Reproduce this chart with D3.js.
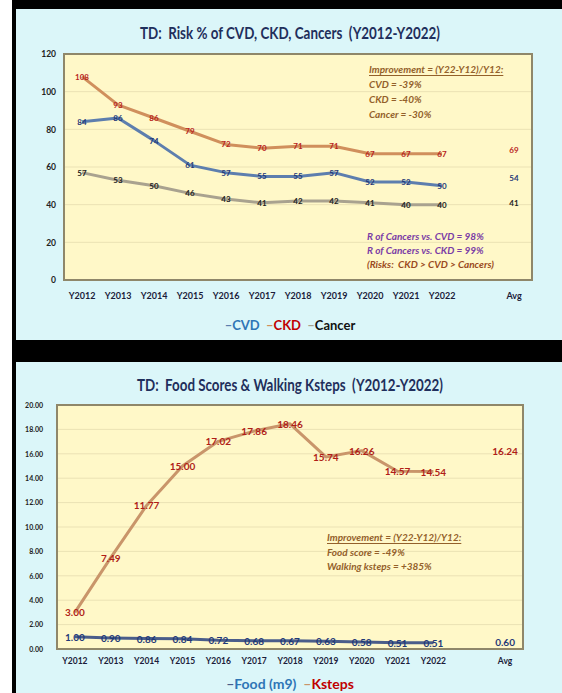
<!DOCTYPE html>
<html>
<head>
<meta charset="utf-8">
<script src="https://cdn.jsdelivr.net/npm/d3@7"></script>
<style>
  body { margin: 0; background: #000; }
  svg { display: block; font-family: Lato, 'Liberation Sans', sans-serif; }
  text { white-space: pre; }
</style>
</head>
<body>
<svg id="chart" width="562" height="693"></svg>
<script>
'use strict'

const years = ['Y2012', 'Y2013', 'Y2014', 'Y2015', 'Y2016', 'Y2017', 'Y2018', 'Y2019', 'Y2020', 'Y2021', 'Y2022']
const slots = years.concat([' ', 'Avg'])

// top chart: risk %
const cvd = [84, 86, 74, 61, 57, 55, 55, 57, 52, 52, 50]
const ckd = [108, 93, 86, 79, 72, 70, 71, 71, 67, 67, 67]
const cancer = [57, 53, 50, 46, 43, 41, 42, 42, 41, 40, 40]
const riskAvg = [54, 69, 41] // cvd, ckd, cancer
const riskTicks = [0, 20, 40, 60, 80, 100, 120]
const riskNotes = ['Improvement = (Y22-Y12)/Y12:', 'CVD = -39%', 'CKD = -40%', 'Cancer = -30%']
const riskR = ['R of Cancers vs. CVD = 98%', 'R of Cancers vs. CKD = 99%', '(Risks:  CKD > CVD > Cancers)']

// bottom chart: food score and walking ksteps
const food = [1.00, 0.90, 0.86, 0.84, 0.72, 0.68, 0.67, 0.63, 0.58, 0.51, 0.51]
const ksteps = [3.00, 7.49, 11.77, 15.00, 17.02, 17.86, 18.46, 15.74, 16.26, 14.57, 14.54]
const walkAvg = [0.60, 16.24] // food, ksteps
const walkTicks = [0, 2, 4, 6, 8, 10, 12, 14, 16, 18, 20]
const walkNotes = ['Improvement = (Y22-Y12)/Y12:', 'Food score = -49%', 'Walking ksteps = +385%']

const svg = d3.select('#chart')

// frame: white strip, black borders, two cyan panels
svg.append('rect').attr('width', 562).attr('height', 693).attr('fill', '#000')
svg.append('rect').attr('width', 12).attr('height', 693).attr('fill', '#fff')
svg.append('rect').attr('x', 16).attr('y', 9).attr('width', 546).attr('height', 331).attr('fill', '#dbf6f9')
svg.append('rect').attr('x', 16).attr('y', 362).attr('width', 546).attr('height', 331).attr('fill', '#dbf6f9')

function drawPanel (cfg) {
  const g = svg.append('g')
  const x = d3.scaleBand().domain(slots).range([cfg.left, cfg.right])
  const cx = d => x(d) + x.bandwidth() / 2
  const y = d3.scaleLinear().domain([0, cfg.ticks[cfg.ticks.length - 1]]).range([cfg.bottom, cfg.top])

  // title, squeezed to the width of the narrow original font
  g.append('text')
    .attr('x', 290).attr('y', cfg.titleY)
    .attr('text-anchor', 'middle').attr('dominant-baseline', 'central')
    .attr('font-size', 17).attr('font-weight', 'bold').attr('fill', '#1f2f5c')
    .attr('textLength', cfg.titleW).attr('lengthAdjust', 'spacingAndGlyphs')
    .text(cfg.title)

  g.append('rect')
    .attr('x', cfg.left).attr('y', cfg.top)
    .attr('width', cfg.right - cfg.left).attr('height', cfg.bottom - cfg.top)
    .attr('fill', '#fff8c8')

  g.selectAll(null)
    .data(cfg.ticks.slice(1, -1))
    .join('line')
    .attr('x1', cfg.left).attr('x2', cfg.right)
    .attr('y1', d => y(d)).attr('y2', d => y(d))
    .attr('stroke', '#ebe2b4').attr('stroke-width', 1)

  g.append('rect')
    .attr('x', cfg.left).attr('y', cfg.top)
    .attr('width', cfg.right - cfg.left).attr('height', cfg.bottom - cfg.top)
    .attr('fill', 'none').attr('stroke', '#8f876a').attr('stroke-width', 2)

  g.append('g')
    .attr('transform', `translate(${cfg.left - cfg.yGap},0)`)
    .call(d3.axisLeft(y).tickValues(cfg.ticks).tickSize(0).tickPadding(0).tickFormat(cfg.fmt))
    .call(a => a.select('.domain').remove())
    .attr('font-family', null).attr('font-size', cfg.yFont).attr('font-weight', 'bold').attr('color', '#222')

  g.append('g')
    .attr('transform', `translate(0,${cfg.xLabelY})`)
    .call(d3.axisBottom(x).tickSize(0).tickPadding(0))
    .call(a => a.select('.domain').remove())
    .attr('font-family', null).attr('font-size', cfg.xFont).attr('font-weight', 'bold').attr('color', '#1c1c3a')
    .selectAll('text').attr('dy', '0.35em')

  const line = d3.line().x(d => cx(d[0])).y(d => y(d[1]))
  cfg.series.forEach(s => {
    const pts = s.values.map((v, i) => [years[i], v])
    g.append('path').datum(pts)
      .attr('d', line).attr('fill', 'none')
      .attr('stroke', s.line).attr('stroke-width', 3).attr('stroke-linejoin', 'round')
    g.selectAll(null)
      .data(pts.concat([['Avg', s.avg]]))
      .join('text')
      .attr('x', d => cx(d[0])).attr('y', d => y(d[1]))
      .attr('text-anchor', 'middle').attr('dominant-baseline', 'central')
      .attr('font-size', cfg.labelFont).attr('font-weight', 'bold').attr('fill', s.label)
      .text(d => cfg.labelFmt(d[1]))
  })

  cfg.notes.forEach(n => {
    g.selectAll(null)
      .data(n.lines)
      .join('text')
      .attr('x', n.x).attr('y', (d, i) => n.y + i * n.step)
      .attr('dominant-baseline', 'central')
      .attr('font-size', 10).attr('font-style', 'italic').attr('font-weight', 'bold')
      .attr('fill', (d, i) => n.colors[i] || n.colors[0])
      .attr('text-decoration', (d, i) => n.underline && i === 0 ? 'underline' : null)
      .text(d => d)
  })

  const leg = g.append('text')
    .attr('x', 290).attr('y', cfg.legendY)
    .attr('text-anchor', 'middle').attr('dominant-baseline', 'central')
    .attr('font-size', cfg.legendFont).attr('font-weight', 'bold')
  cfg.legendOrder.forEach((k, i) => {
    const s = cfg.series.find(d => d.name === k)
    leg.append('tspan').attr('fill', s.line).text((i ? '  ' : '') + '–')
    leg.append('tspan').attr('fill', s.legend).text(s.name)
  })
}

drawPanel({
  title: 'TD:  Risk % of CVD, CKD, Cancers  (Y2012-Y2022)',
  titleY: 32, titleW: 300,
  left: 64, right: 532, top: 54, bottom: 280,
  ticks: riskTicks, fmt: d3.format('d'), yGap: 8, yFont: 8.5,
  xLabelY: 296, xFont: 9,
  labelFont: 8, labelFmt: d3.format('d'),
  series: [
    { name: 'Cancer', values: cancer, avg: riskAvg[2], line: '#a9a28f', label: '#222', legend: '#111' },
    { name: 'CVD', values: cvd, avg: riskAvg[0], line: '#5d7eae', label: '#1f3a78', legend: '#2e75b6' },
    { name: 'CKD', values: ckd, avg: riskAvg[1], line: '#d08f5c', label: '#b8241c', legend: '#c00000' }
  ],
  legendOrder: ['CVD', 'CKD', 'Cancer'],
  notes: [
    { lines: riskNotes, x: 369, y: 69, step: 15, colors: ['#93602a'], underline: true },
    { lines: riskR, x: 367, y: 236, step: 14, colors: ['#7a3ca6', '#7a3ca6', '#9a4a20'] }
  ],
  legendY: 325, legendFont: 13
})

drawPanel({
  title: 'TD:  Food Scores & Walking Ksteps  (Y2012-Y2022)',
  titleY: 384, titleW: 306,
  left: 57, right: 523, top: 405, bottom: 649,
  ticks: walkTicks, fmt: d3.format('.2f'), yGap: 14, yFont: 7,
  xLabelY: 661, xFont: 8.5,
  labelFont: 10, labelFmt: d3.format('.2f'),
  series: [
    { name: 'Food (m9)', values: food, avg: walkAvg[0], line: '#4a5d8a', label: '#1f3a78', legend: '#2e75b6' },
    { name: 'Ksteps', values: ksteps, avg: walkAvg[1], line: '#c9956a', label: '#b01e18', legend: '#c00000' }
  ],
  legendOrder: ['Food (m9)', 'Ksteps'],
  notes: [
    { lines: walkNotes, x: 327, y: 537, step: 14.5, colors: ['#93602a'], underline: true }
  ],
  legendY: 683, legendFont: 14
})
</script>
</body>
</html>
